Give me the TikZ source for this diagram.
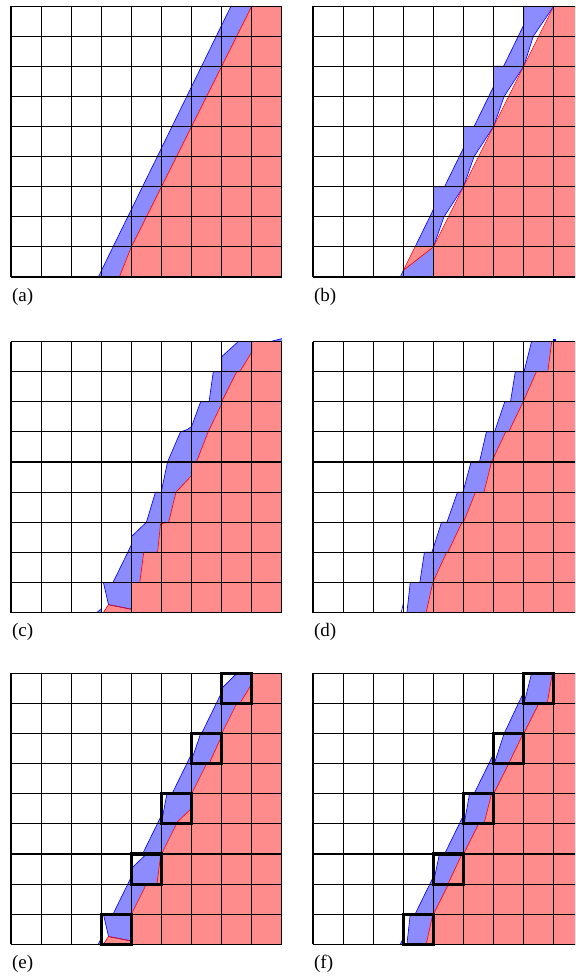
\documentclass[tikz,border=0pt]{standalone}
\usepackage{fontspec}
\setmainfont{Liberation Serif}

\begin{document}
\begin{tikzpicture}[
cellgrid/.style={draw=black, line width=1.1pt},
mixcell/.style={draw=black, line width=3pt},
bluefill/.style={fill=blue!45},
redfill/.style={fill=red!45},
gapfill/.style={fill=white},
blueline/.style={draw=blue, line width=0.6pt, line join=round},
redline/.style={draw=red, line width=0.6pt, line join=round},
panellabel/.style={anchor=west, inner sep=0pt, font=\fontsize{18}{20}\selectfont}
]
\useasboundingbox (0,0) rectangle (19.103,-32.425);
\clip (0,0) rectangle (19.103,-32.425);

\begin{scope}[shift={(0.365,-9.203)}]
\fill[bluefill] (2.9,0) -- (3.6,0) -- (4,1) -- (8,9) -- (7.31,9) -- cycle;
\fill[redfill] (3.6,0) -- (9,0) -- (9,9) -- (8,9) -- (4,1) -- cycle;
\draw[blueline] (2.9,0) -- (7.31,9);
\draw[redline] (3.6,0) -- (4,1) -- (8,9);
\draw[cellgrid] (0,0) grid (9,9);
\node[panellabel] (la) at (0.03,-0.66) {(a)};
\end{scope}

\begin{scope}[shift={(10.399,-9.203)}]
\fill[bluefill] (2.9,0) -- (4,0) -- (4,1) -- (8,9) -- (7,9) -- (7,8.37) -- (6.82,8) -- (6.33,7) -- (6,7) -- (6,6.33) -- (5.84,6) -- (5.35,5) -- (5,5) -- (5,4.29) -- (4.86,4) -- (4.37,3) -- (4,3) -- (4,2.25) -- (3.88,2) -- (3.39,1) -- (3,0.2) -- cycle;
\fill[redfill] (4,0) -- (9,0) -- (9,9) -- (8,9) -- (4,1) -- cycle;
\fill[redfill] (3,0.22) -- (3.39,1) -- (4,1) -- cycle;
\fill[gapfill] (4,1) -- (4.35,2) -- (5,3) -- (4.5,2) -- cycle;
\fill[gapfill] (5,3) -- (5.35,4) -- (6,5) -- (5.5,4) -- cycle;
\fill[gapfill] (6,5) -- (6.35,6) -- (7,7) -- (6.5,6) -- cycle;
\fill[gapfill] (7,7) -- (7.32,8) -- (8,9) -- (7.5,8) -- cycle;
\draw[blueline] (2.9,0) -- (3,0.22);
\draw[blueline] (3.39,1) -- (3.88,2) -- (4,2.25) -- (4,3) -- (4.37,3) -- (4.86,4) -- (5,4.29) -- (5,5) -- (5.35,5) -- (5.84,6) -- (6,6.33) -- (6,7) -- (6.33,7) -- (6.82,8) -- (7,8.37) -- (7,9);
\draw[blueline] (4,1) -- (4.35,2) -- (5,3) -- (5.35,4) -- (6,5) -- (6.35,6) -- (7,7) -- (7.32,8) -- (8,9);
\draw[redline] (3.39,1) -- (3,0.22) -- (4,1) -- (8,9);
\draw[cellgrid] (0,0) grid (9,9);
\node[panellabel] (lb) at (0.03,-0.66) {(b)};
\end{scope}

\begin{scope}[shift={(0.365,-20.349)}]
\fill[bluefill] (2.85,0) -- (3,0) -- (3,0.12) -- cycle;
\fill[bluefill] (8.62,9) -- (9,9.1) -- (9,9) -- cycle;
\fill[bluefill] (3.24,0.26) -- (3.07,1) -- (3.39,1) -- (3.88,2) -- (4,2.25) -- (4,2.52) -- (4.5,3) -- (4.8,4) -- (5,4) -- (5,4.05) -- (5.2,5) -- (5.63,6) -- (5.86,6.08) -- (6,6.18) -- (6.3,7) -- (6.58,7) -- (6.72,8) -- (7,8) -- (7,8.5) -- (7.55,9) -- (9,9) -- (9,0) -- (4,0) -- (4,0.11) -- cycle;
\fill[redfill] (3.07,0) -- (3.24,0.26) -- (4,0.11) -- (4,1) -- (4.28,1) -- (4.41,2) -- (4.87,2) -- (4.97,2.95) -- (5,2.95) -- (5.24,3) -- (5.48,4) -- (6,4.55) -- (6,5) -- (6.16,5) -- (6.55,6) -- (7,6.93) -- (7,7) -- (7.5,8) -- (7.6,8) -- (8,8.65) -- (8,9) -- (9,9) -- (9,0) -- cycle;
\draw[blueline] (2.85,0) -- (3,0.12);
\draw[blueline] (8.62,9) -- (9,9.1);
\draw[blueline] (4,0.11) -- (3.24,0.26) -- (3.07,1) -- (3.39,1) -- (3.88,2) -- (4,2.25) -- (4,2.52) -- (4.5,3) -- (4.8,4) -- (5,4) -- (5,4.05) -- (5.2,5) -- (5.63,6) -- (5.86,6.08) -- (6,6.18) -- (6.3,7) -- (6.58,7) -- (6.72,8) -- (7,8) -- (7,8.5) -- (7.55,9);
\draw[redline] (3.07,0) -- (3.24,0.26) -- (4,0.11) -- (4,1) -- (4.28,1) -- (4.41,2) -- (4.87,2) -- (4.97,2.95) -- (5,2.95) -- (5.24,3) -- (5.48,4) -- (6,4.55) -- (6,5) -- (6.16,5) -- (6.55,6) -- (7,6.93) -- (7,7) -- (7.5,8) -- (7.6,8) -- (8,8.65) -- (8,9);
\draw[cellgrid] (0,0) grid (9,9);
\node[panellabel] (lc) at (0.03,-0.66) {(c)};
\end{scope}

\begin{scope}[shift={(10.399,-20.349)}]
\fill[bluefill] (3.12,0) -- (3.23,1) -- (3.55,1) -- (3.7,2) -- (3.95,2) -- (4.27,3) -- (4.45,3) -- (4.8,4) -- (4.98,4) -- (5.25,5) -- (5.53,5) -- (5.76,6) -- (6.03,6) -- (6.37,7) -- (6.56,7) -- (6.72,8) -- (7.01,8) -- (7.26,9) -- (9,9) -- (9,0) -- cycle;
\fill[redfill] (3.76,0) -- (3.98,1) -- (4.44,2) -- (4.48,2) -- (4.95,3) -- (5,3) -- (5.4,4) -- (5.68,4) -- (5.93,5) -- (6.4,6) -- (6.5,6) -- (6.98,7) -- (7.42,8) -- (7.8,8) -- (7.93,9) -- (9,9) -- (9,0) -- cycle;
\fill[blue] (7.98,9) rectangle (8.07,9.08);
\draw[blueline] (2.93,0) -- (3,0.3);
\draw[blueline] (3.12,0) -- (3.23,1) -- (3.55,1) -- (3.7,2) -- (3.95,2) -- (4.27,3) -- (4.45,3) -- (4.8,4) -- (4.98,4) -- (5.25,5) -- (5.53,5) -- (5.76,6) -- (6.03,6) -- (6.37,7) -- (6.56,7) -- (6.72,8) -- (7.01,8) -- (7.26,9);
\draw[redline] (3.76,0) -- (3.98,1) -- (4.44,2) -- (4.48,2) -- (4.95,3) -- (5,3) -- (5.4,4) -- (5.68,4) -- (5.93,5) -- (6.4,6) -- (6.5,6) -- (6.98,7) -- (7.42,8) -- (7.8,8) -- (7.93,9);
\draw[cellgrid] (0,0) grid (9,9);
\node[panellabel] (ld) at (0.03,-0.66) {(d)};
\end{scope}

\begin{scope}[shift={(0.365,-31.372)}]
\fill[bluefill] (2.9,0) -- (3,0) -- (3,0.2) -- cycle;
\fill[bluefill] (3.24,0.26) -- (3.07,1) -- (3.39,1) -- (3.88,2) -- (4,2.25) -- (4,2.52) -- (4.5,3) -- (4.37,3) -- (4.86,4) -- (5,4.29) -- (5,4.05) -- (5.18,5) -- (5.35,5) -- (5.84,6) -- (6,6.33) -- (6,6.12) -- (6.3,7) -- (6.33,7) -- (6.82,8) -- (7,8.37) -- (7,8.5) -- (7.5,9) -- (9,9) -- (9,0) -- (4,0) -- (4,0.11) -- cycle;
\fill[redfill] (3.07,0) -- (3.24,0.26) -- (4,0.11) -- (4,1) -- (4.5,2) -- (4.85,2) -- (4.97,2.95) -- (5,2.95) -- (5,3) -- (5.5,4) -- (5.46,4) -- (6,4.52) -- (6,5) -- (6.5,6) -- (6.58,6) -- (7,6.92) -- (7,7) -- (7.5,8) -- (7.6,8) -- (8,8.65) -- (8,9) -- (9,9) -- (9,0) -- cycle;
\draw[blueline] (2.9,0) -- (3,0.2);
\draw[blueline] (4,0.11) -- (3.24,0.26) -- (3.07,1) -- (3.39,1) -- (3.88,2) -- (4,2.25) -- (4,2.52) -- (4.5,3) -- (4.37,3) -- (4.86,4) -- (5,4.29) -- (5,4.05) -- (5.18,5) -- (5.35,5) -- (5.84,6) -- (6,6.33) -- (6,6.12) -- (6.3,7) -- (6.33,7) -- (6.82,8) -- (7,8.37) -- (7,8.5) -- (7.5,9);
\draw[redline] (3.07,0) -- (3.24,0.26) -- (4,0.11) -- (4,1) -- (4.5,2) -- (4.85,2) -- (4.97,2.95) -- (5,2.95) -- (5,3) -- (5.5,4) -- (5.46,4) -- (6,4.52) -- (6,5) -- (6.5,6) -- (6.58,6) -- (7,6.92) -- (7,7) -- (7.5,8) -- (7.6,8) -- (8,8.65) -- (8,9);
\draw[cellgrid] (0,0) grid (9,9);
\draw[mixcell] (3,0) rectangle (4,1);
\draw[mixcell] (4,2) rectangle (5,3);
\draw[mixcell] (5,4) rectangle (6,5);
\draw[mixcell] (6,6) rectangle (7,7);
\draw[mixcell] (7,8) rectangle (8,9);
\node[panellabel] (le) at (0.03,-0.66) {(e)};
\end{scope}

\begin{scope}[shift={(10.399,-31.372)}]
\fill[bluefill] (2.9,0) -- (3,0) -- (3,0.2) -- cycle;
\fill[bluefill] (3.12,0) -- (3.23,1) -- (3.39,1) -- (3.88,2) -- (4,2.25) -- (4,2.05) -- (4.2,3) -- (4.37,3) -- (4.86,4) -- (5,4.29) -- (5,4) -- (5.02,4) -- (5.2,5) -- (5.35,5) -- (5.84,6) -- (6,6.33) -- (6,6) -- (6.02,6) -- (6.35,7) -- (6.82,8) -- (7,8.37) -- (7,8) -- (7.01,8) -- (7.26,9) -- (9,9) -- (9,0) -- cycle;
\fill[redfill] (3.76,0) -- (3.98,1) -- (4,1) -- (4.5,2) -- (4.48,2) -- (4.95,3) -- (5,3) -- (5.5,4) -- (5.68,4) -- (5.93,5) -- (6,5) -- (6.5,6) -- (6.98,7) -- (7,7) -- (7.5,8) -- (7.78,8) -- (7.95,9) -- (9,9) -- (9,0) -- cycle;
\draw[blueline] (2.9,0) -- (3,0.2);
\draw[blueline] (3.12,0) -- (3.23,1) -- (3.39,1) -- (3.88,2) -- (4,2.25) -- (4,2.05) -- (4.2,3) -- (4.37,3) -- (4.86,4) -- (5,4.29) -- (5,4) -- (5.02,4) -- (5.2,5) -- (5.35,5) -- (5.84,6) -- (6,6.33) -- (6,6) -- (6.02,6) -- (6.35,7) -- (6.82,8) -- (7,8.37) -- (7,8) -- (7.01,8) -- (7.26,9);
\draw[redline] (3.76,0) -- (3.98,1) -- (4,1) -- (4.5,2) -- (4.48,2) -- (4.95,3) -- (5,3) -- (5.5,4) -- (5.68,4) -- (5.93,5) -- (6,5) -- (6.5,6) -- (6.98,7) -- (7,7) -- (7.5,8) -- (7.78,8) -- (7.95,9);
\draw[cellgrid] (0,0) grid (9,9);
\draw[mixcell] (3,0) rectangle (4,1);
\draw[mixcell] (4,2) rectangle (5,3);
\draw[mixcell] (5,4) rectangle (6,5);
\draw[mixcell] (6,6) rectangle (7,7);
\draw[mixcell] (7,8) rectangle (8,9);
\node[panellabel] (lf) at (0.03,-0.66) {(f)};
\end{scope}
\end{tikzpicture}
\end{document}
